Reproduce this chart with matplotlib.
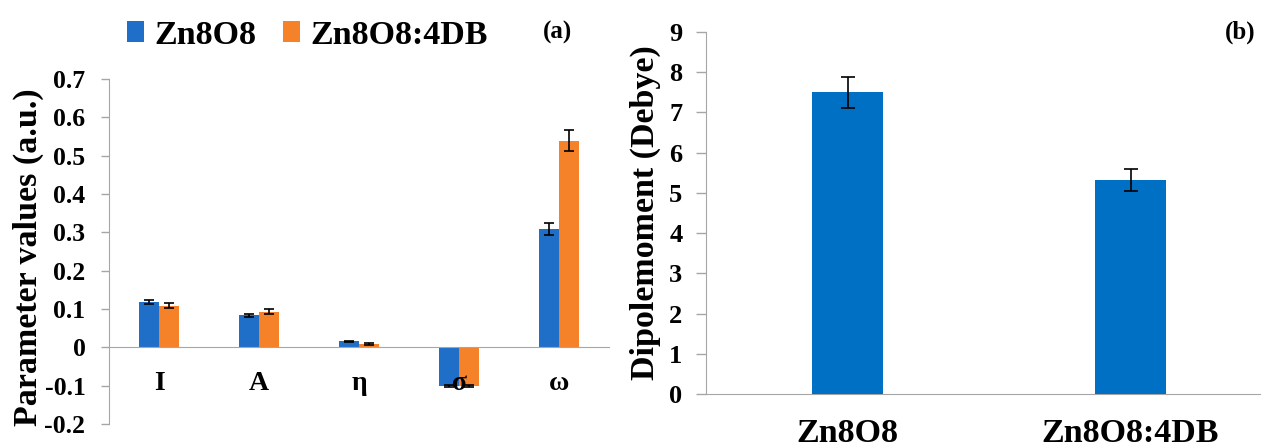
import matplotlib
matplotlib.use("Agg")
import matplotlib.pyplot as plt
import numpy as np

# ---- data ----
params = ["I", "A", "η", "σ", "ω"]
zn8o8_vals = [0.118, 0.084, 0.0155, -0.100, 0.309]
zn8o8_err = [0.005, 0.004, 0.0015, 0.003, 0.015]
db_vals = [0.109, 0.093, 0.0088, -0.100, 0.539]
db_err = [0.006, 0.006, 0.0015, 0.003, 0.027]
series_names = ["Zn8O8", "Zn8O8:4DB"]

systems = ["Zn8O8", "Zn8O8:4DB"]
dipole = [7.50, 5.32]
dipole_err = [0.39, 0.27]

left_yticks = [-0.2, -0.1, 0, 0.1, 0.2, 0.3, 0.4, 0.5, 0.6, 0.7]
left_yticklabels = ["-0.2", "-0.1", "0", "0.1", "0.2", "0.3", "0.4", "0.5", "0.6", "0.7"]
right_yticks = list(range(0, 10))

BLUE = "#1F6FC8"
ORANGE = "#F58229"
BLUE_R = "#0070C5"
GRAY = "#A6A6A6"

plt.rcParams["font.family"] = ["Liberation Serif", "DejaVu Serif"]
plt.rcParams["font.weight"] = "bold"

W, H = 1261, 448
fig = plt.figure(figsize=(W / 100, H / 100), dpi=100)

def fx(px):
    return px / W

def fy(py):
    return 1 - py / H

# ---- left panel ----
axL = fig.add_axes([fx(109), fy(424), fx(609) - fx(109), fy(79) - fy(424)])
x = np.arange(len(params))
bw = 0.2
axL.bar(x - bw / 2, zn8o8_vals, bw, color=BLUE, zorder=3, label=series_names[0])
axL.bar(x + bw / 2, db_vals, bw, color=ORANGE, zorder=3, label=series_names[1])
axL.errorbar(x - bw / 2, zn8o8_vals, yerr=zn8o8_err, fmt="none", ecolor="black",
             elinewidth=1.2, capsize=3.5, capthick=1.2, zorder=4)
axL.errorbar(x + bw / 2, db_vals, yerr=db_err, fmt="none", ecolor="black",
             elinewidth=1.2, capsize=3.5, capthick=1.2, zorder=4)
axL.set_xlim(-0.5, len(params) - 0.5)
axL.set_ylim(-0.2, 0.7)
axL.set_yticks(left_yticks)
axL.set_yticklabels(left_yticklabels)
axL.set_xticks(x)
axL.set_xticklabels(params)
for s in ["top", "right"]:
    axL.spines[s].set_visible(False)
axL.spines["left"].set_color(GRAY)
axL.spines["bottom"].set_color(GRAY)
axL.spines["bottom"].set_position(("data", 0))
axL.spines["bottom"].set_zorder(5)
axL.xaxis.set_zorder(6)
axL.tick_params(axis="y", colors=GRAY, length=6, width=1, pad=11,
                labelcolor="black", labelsize=18.5)
axL.tick_params(axis="x", length=0, pad=17, labelsize=20)
for t in axL.get_yticklabels() + axL.get_xticklabels():
    t.set_fontweight("bold")
fig.text(fx(28), fy(257), "Parameter values (a.u.)", rotation=90,
         ha="center", va="center", fontsize=24.5, fontweight="bold")

leg = fig.legend(handles=axL.containers[:2], labels=series_names, loc="center left",
                 bbox_to_anchor=(fx(127), fy(35)), ncol=2, frameon=False,
                 prop={"size": 24.5, "weight": "bold"}, handlelength=0.5,
                 handleheight=0.55, handletextpad=0.3, columnspacing=0.8,
                 borderpad=0, borderaxespad=0)
fig.text(fx(558), fy(32), "(a)", ha="center", va="center", fontsize=18, fontweight="bold")

# ---- right panel ----
axR = fig.add_axes([fx(706), fy(394), fx(1272) - fx(706), fy(32) - fy(394)])
xr = np.arange(len(systems))
axR.bar(xr, dipole, 0.25, color=BLUE_R, zorder=3)
axR.errorbar(xr, dipole, yerr=dipole_err, fmt="none", ecolor="black",
             elinewidth=1.2, capsize=5, capthick=1.2, zorder=4)
axR.set_xlim(-0.5, len(systems) - 0.5)
axR.set_ylim(0, 9)
axR.set_yticks(right_yticks)
axR.set_xticks(xr)
axR.set_xticklabels(systems)
for s in ["top", "right"]:
    axR.spines[s].set_visible(False)
axR.spines["left"].set_color(GRAY)
axR.spines["bottom"].set_color(GRAY)
axR.tick_params(axis="y", colors=GRAY, length=7, width=1, pad=10,
                labelcolor="black", labelsize=19)
axR.tick_params(axis="x", length=0, pad=17, labelsize=24.5)
for t in axR.get_yticklabels() + axR.get_xticklabels():
    t.set_fontweight("bold")
fig.text(fx(645), fy(213), "Dipolemoment (Debye)", rotation=90,
         ha="center", va="center", fontsize=24.5, fontweight="bold")
fig.text(fx(1240), fy(32), "(b)", ha="center", va="center", fontsize=18, fontweight="bold")

fig.savefig("out.png", dpi=100, facecolor="white")
